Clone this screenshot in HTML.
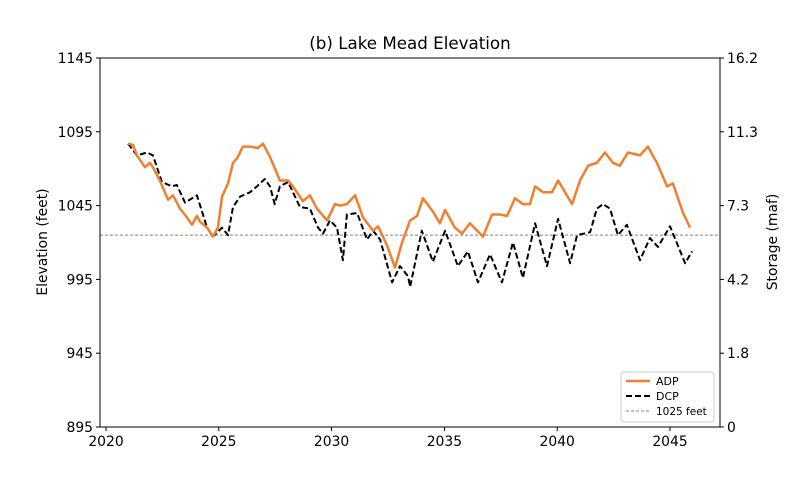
<!DOCTYPE html>
<html><head><meta charset="utf-8"><style>
body{margin:0;background:#fff;}
svg text{font-family:"DejaVu Sans","Liberation Sans",sans-serif;fill:#000;}
</style></head><body>
<svg id="chart" width="800" height="480" xmlns="http://www.w3.org/2000/svg">
<rect width="800" height="480" fill="#fff"/>
<text x="410" y="49" font-size="16.7" text-anchor="middle">(b) Lake Mead Elevation</text>
<g id="grid"></g>
<g id="series"></g>
<rect x="100" y="58" width="620" height="369" fill="none" stroke="#000" stroke-width="1"/>
<g id="axes"></g>
<text transform="translate(47,242) rotate(-90)" font-size="13.9" text-anchor="middle">Elevation (feet)</text>
<text transform="translate(777,242) rotate(-90)" font-size="13.9" text-anchor="middle">Storage (maf)</text>
<g>
<rect x="621" y="372" width="93" height="50" rx="3" fill="#fff" stroke="#ccc"/>
<line x1="626" y1="381" x2="650" y2="381" stroke="#f07f2f" stroke-width="2.5"/>
<text x="656" y="385" font-size="11">ADP</text>
<line x1="626" y1="396" x2="650" y2="396" stroke="#000" stroke-width="2" stroke-dasharray="6,3"/>
<text x="656" y="400" font-size="11">DCP</text>
<line x1="626" y1="411" x2="650" y2="411" stroke="#808080" stroke-width="1" stroke-dasharray="3,2"/>
<text x="656" y="415" font-size="10.5">1025 feet</text>
</g>
</svg>
<script>
const xTicks=[2020,2025,2030,2035,2040,2045];
const yTicks=[895,945,995,1045,1095,1145];
const storageTicks=["0","1.8","4.2","7.3","11.3","16.2"];
const thresholdElev=1025;
const adpYears=[2020.98,2021.2,2021.37,2021.73,2021.95,2022.08,2022.39,2022.75,2022.97,2023.28,2023.59,2023.81,2024.03,2024.17,2024.48,2024.74,2024.96,2025.14,2025.41,2025.63,2025.81,2026.07,2026.38,2026.74,2026.96,2027.27,2027.71,2028.07,2028.29,2028.73,2029.04,2029.35,2029.8,2030.15,2030.37,2030.68,2031.04,2031.39,2031.84,2032.06,2032.46,2032.81,2033.12,2033.48,2033.79,2034.05,2034.49,2034.8,2035.03,2035.47,2035.78,2036.13,2036.71,2037.11,2037.46,2037.78,2038.13,2038.48,2038.79,2039.02,2039.37,2039.77,2040.04,2040.66,2041.01,2041.37,2041.76,2042.12,2042.47,2042.78,2043.14,2043.67,2044.02,2044.42,2044.87,2045.13,2045.58,2045.89];
const adpElev=[1087,1086,1079,1071,1074,1071,1062,1049,1052,1043,1037,1032,1038,1034,1030,1024,1030,1051,1060,1074,1077,1085,1085,1084,1087,1078,1062,1062,1058,1048,1052,1043,1035,1046,1045,1046,1052,1037,1028,1031,1018,1003,1020,1035,1038,1050,1041,1033,1042,1030,1026,1033,1024,1039,1039,1038,1050,1046,1046,1058,1054,1054,1062,1046,1062,1072,1074,1081,1074,1072,1081,1079,1085,1074,1058,1060,1040,1030];
const dcpYears=[2020.98,2021.37,2021.82,2022.08,2022.48,2022.93,2023.14,2023.5,2024.03,2024.48,2024.74,2025.14,2025.41,2025.63,2025.94,2026.38,2026.69,2027.04,2027.27,2027.48,2027.71,2028.07,2028.6,2029.04,2029.4,2029.62,2029.93,2030.24,2030.5,2030.68,2031.13,2031.57,2031.84,2032.15,2032.68,2033.03,2033.39,2033.48,2034.0,2034.49,2035.03,2035.6,2036.04,2036.49,2037.02,2037.55,2038.04,2038.48,2039.02,2039.55,2040.04,2040.57,2040.88,2041.46,2041.76,2042.03,2042.34,2042.69,2043.09,2043.67,2044.11,2044.47,2045.0,2045.67,2045.98];
const dcpElev=[1087,1079,1081,1079,1061,1058,1059,1047,1052,1030,1024,1030,1025,1044,1051,1054,1058,1063,1058,1046,1058,1061,1044,1043,1030,1026,1035,1030,1008,1039,1040,1022,1028,1022,993,1004,997,990,1028,1007,1028,1004,1014,993,1012,993,1020,996,1033,1004,1036,1006,1025,1027,1043,1046,1043,1025,1032,1008,1023,1017,1031,1006,1014];
const NS="http://www.w3.org/2000/svg";
const X0=100,X1=720,Y0=427,Y1=58;
function xs(v){return 106+(v-2020)*22.56;}
function ys(v){return Y0-(v-895)*(Y0-Y1)/250;}
function mk(tag,attrs,parent){const e=document.createElementNS(NS,tag);for(const k in attrs)e.setAttribute(k,attrs[k]);parent.appendChild(e);return e;}
const axes=document.getElementById('axes');
xTicks.forEach(t=>{
  const l=mk('line',{x1:xs(t),x2:xs(t),y1:Y0,y2:Y0+4,stroke:'#000'},axes);
  
  
  const tx=mk('text',{x:xs(t),y:Y0+19,'font-size':13.9,'text-anchor':'middle'},axes);tx.textContent=t;
  
  
});
yTicks.forEach((t,i)=>{
  const l=mk('line',{x1:X0-4,x2:X0,y1:ys(t),y2:ys(t),stroke:'#000'},axes);
  
  
  const tx=mk('text',{x:X0-7,y:ys(t)+5,'font-size':13.9,'text-anchor':'end'},axes);tx.textContent=t;
  
  
  const r=mk('line',{x1:X1,x2:X1+4,y1:ys(t),y2:ys(t),stroke:'#000'},axes);
  
  
  const rt=mk('text',{x:X1+7,y:ys(t)+5,'font-size':13.9,'text-anchor':'start'},axes);rt.textContent=storageTicks[i];
  
  
});
const series=document.getElementById('series');
const th=mk('line',{x1:X0,x2:X1,y1:ys(thresholdElev),y2:ys(thresholdElev),stroke:'#808080','stroke-width':1,'stroke-dasharray':'3,2'},series);


function pts(xa,ya){return xa.map((x,i)=>xs(x).toFixed(1)+','+ys(ya[i]).toFixed(1)).join(' ');}
const d=mk('polyline',{points:pts(dcpYears,dcpElev),fill:'none',stroke:'#000','stroke-width':2,'stroke-dasharray':'6,3','stroke-linejoin':'round'},series);


const a=mk('polyline',{points:pts(adpYears,adpElev),fill:'none',stroke:'#f07f2f','stroke-width':2.5,'stroke-linejoin':'round'},series);


</script>
</body></html>
